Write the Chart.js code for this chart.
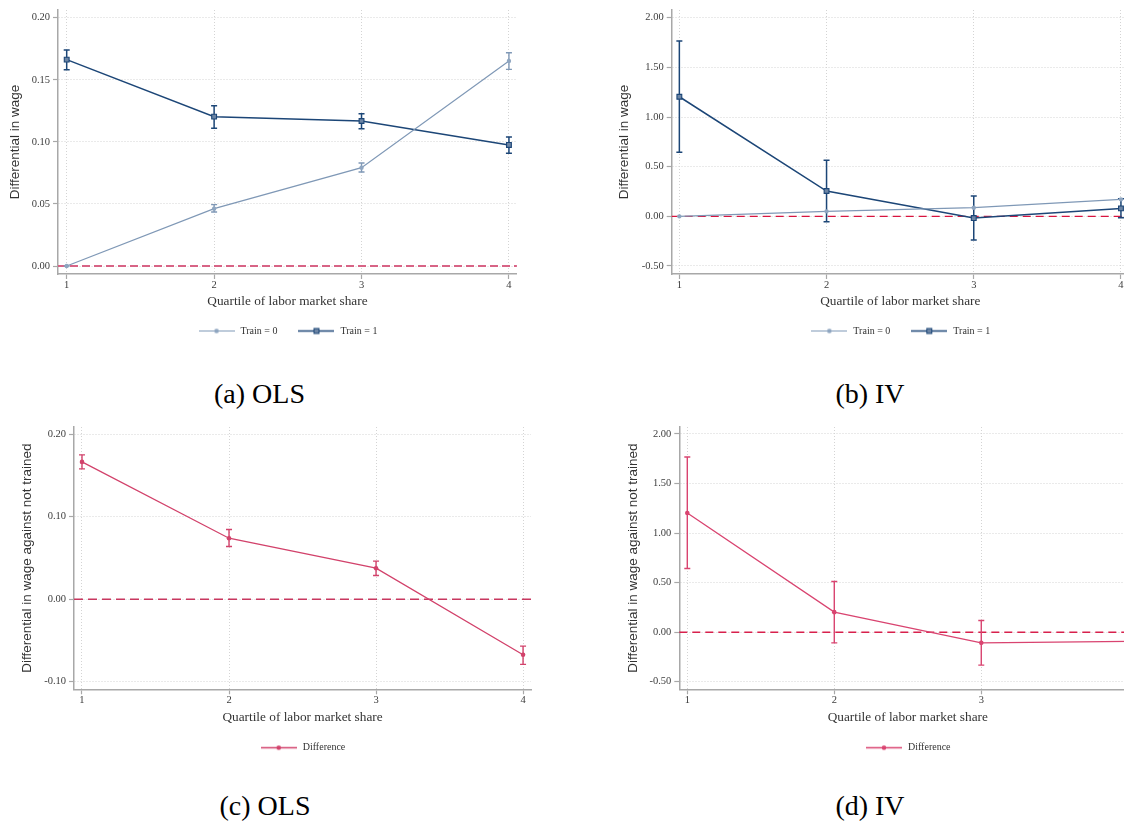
<!DOCTYPE html>
<html>
<head>
<meta charset="utf-8">
<script src="https://cdn.jsdelivr.net/npm/chart.js@4.4.1/dist/chart.umd.min.js"></script>
<style>
html,body{margin:0;padding:0;background:#fff;width:1124px;height:821px;overflow:hidden;position:relative;}
canvas{position:absolute;}
.cap{position:absolute;font-family:"Liberation Serif","Times New Roman",serif;font-size:28px;line-height:28px;color:#000;text-align:center;width:300px;white-space:nowrap;}
</style>
</head>
<body>
<canvas id="pa" width="560" height="360" style="left:0px;top:0px"></canvas>
<canvas id="pb" width="560" height="360" style="left:580px;top:0px"></canvas>
<canvas id="pc" width="560" height="360" style="left:0px;top:417px"></canvas>
<canvas id="pd" width="560" height="360" style="left:600px;top:417px"></canvas>
<div class="cap" style="left:109.5px;top:379.6px">(a) OLS</div>
<div class="cap" style="left:720px;top:379.6px">(b) IV</div>
<div class="cap" style="left:115px;top:791.5px">(c) OLS</div>
<div class="cap" style="left:720px;top:791.5px">(d) IV</div>
<script>
// ---------------- data ----------------
const quartiles = [1, 2, 3, 4];

const olsTrain0   = [0.0000, 0.0462, 0.0792, 0.1651];
const olsTrain0Lo = [0.0000, 0.0435, 0.0757, 0.1584];
const olsTrain0Hi = [0.0000, 0.0494, 0.0830, 0.1718];
const olsTrain1   = [0.1662, 0.1203, 0.1168, 0.0975];
const olsTrain1Lo = [0.1580, 0.1110, 0.1106, 0.0908];
const olsTrain1Hi = [0.1740, 0.1290, 0.1227, 0.1040];

const ivTrain0   = [0.000, 0.050, 0.087, 0.171];
const ivTrain1   = [1.204, 0.255, -0.017, 0.080];
const ivTrain1Lo = [0.644, -0.054, -0.239, -0.014];
const ivTrain1Hi = [1.765, 0.564, 0.204, 0.177];

const olsDiff   = [0.1662, 0.0738, 0.0375, -0.0674];
const olsDiffLo = [0.1578, 0.0638, 0.0287, -0.0790];
const olsDiffHi = [0.1747, 0.0844, 0.0460, -0.0569];

const ivDiff   = [1.202, 0.202, -0.108, -0.093];
const ivDiffLo = [0.643, -0.108, -0.333, -0.300];
const ivDiffHi = [1.768, 0.512, 0.118, 0.110];

const olsLevelTicks = [0, 0.05, 0.10, 0.15, 0.20];
const ivTicks = [-0.5, 0, 0.5, 1.0, 1.5, 2.0];
const olsDiffTicks = [-0.10, 0, 0.10, 0.20];

const xTitle = 'Quartile of labor market share';
const yTitleLevel = 'Differential in wage';
const yTitleDiff = 'Differential in wage against not trained';
const labelTrain0 = 'Train = 0';
const labelTrain1 = 'Train = 1';
const labelDiff = 'Difference';

// ---------------- styles ----------------
const SERIF = '"Liberation Serif","Times New Roman",serif';
const SANS = '"Liberation Sans",Arial,sans-serif';
const LIGHT = '#7f98b6', LIGHTFILL = '#8ea5c0';
const NAVY = '#1c4677', NAVYFILL = '#6b84a4';
const CRIMSON = '#d2426b';

function pts(vals) { return quartiles.map((q, i) => ({x: q, y: vals[i]})); }

function legendImg(color, marker, fill, lw) {
  const c = document.createElement('canvas');
  c.width = 36; c.height = 9;
  const g = c.getContext('2d');
  g.strokeStyle = color; g.lineWidth = lw;
  g.beginPath(); g.moveTo(0, 4.5); g.lineTo(36, 4.5); g.stroke();
  if (marker === 'rect') {
    g.fillStyle = fill; g.fillRect(15.5, 2, 5, 5);
    g.lineWidth = 1; g.strokeStyle = color; g.strokeRect(15.5, 2, 5, 5);
  } else {
    g.fillStyle = fill; g.beginPath(); g.arc(18, 4.5, 2.3, 0, Math.PI * 2); g.fill();
  }
  return c;
}

const refErr = {
  id: 'refErr',
  beforeDatasetsDraw(chart, args, opts) {
    const ctx = chart.ctx;
    const y = chart.scales.y.getPixelForValue(0);
    const {left, right} = chart.chartArea;
    ctx.save();
    ctx.strokeStyle = opts.zeroColor;
    ctx.lineWidth = opts.zeroWidth;
    ctx.setLineDash(opts.zeroDash);
    ctx.beginPath(); ctx.moveTo(left, y); ctx.lineTo(right, y); ctx.stroke();
    ctx.restore();
  },
  beforeDatasetDraw(chart, args) {
    const ds = chart.data.datasets[args.index];
    if (!ds.errLo) return;
    const ctx = chart.ctx, ys = chart.scales.y, cap = 3;
    ctx.save();
    ctx.strokeStyle = ds.errColor; ctx.lineWidth = ds.errWidth; ctx.setLineDash([]);
    args.meta.data.forEach((pt, i) => {
      const lo = ds.errLo[i], hi = ds.errHi[i];
      if (lo == null || hi == null) return;
      const x = pt.x, y1 = ys.getPixelForValue(lo), y2 = ys.getPixelForValue(hi);
      ctx.beginPath();
      ctx.moveTo(x, y1); ctx.lineTo(x, y2);
      ctx.moveTo(x - cap, y1); ctx.lineTo(x + cap, y1);
      ctx.moveTo(x - cap, y2); ctx.lineTo(x + cap, y2);
      ctx.stroke();
    });
    ctx.restore();
  }
};

function build(id, p) {
  return new Chart(document.getElementById(id), {
    type: 'line',
    data: {datasets: p.datasets},
    plugins: [refErr],
    options: {
      responsive: false, animation: false, devicePixelRatio: 1,
      layout: {padding: {left: 4, right: p.padRight, top: 10, bottom: p.padBottom}},
      plugins: {
        tooltip: {enabled: false},
        refErr: {zeroColor: p.zeroColor, zeroWidth: p.zeroWidth, zeroDash: p.zeroDash},
        legend: {
          position: 'bottom', fullSize: false,
          labels: {
            usePointStyle: true, pointStyleWidth: 38, padding: 20,
            font: {family: SERIF, size: 10}, color: '#333',
            generateLabels: (chart) => chart.data.datasets.map((ds, i) => ({
              text: ds.label, pointStyle: ds.legendImg, fillStyle: ds.borderColor,
              strokeStyle: ds.borderColor, lineWidth: 0, hidden: false, datasetIndex: i, fontColor: '#333'
            }))
          }
        }
      },
      scales: {
        x: {
          type: 'linear', min: p.xMin, max: p.xMax,
          afterBuildTicks: s => { s.ticks = quartiles.map(v => ({value: v})); },
          afterFit: s => { s.height = p.xAxisH; },
          ticks: {font: {family: SERIF, size: 10.5}, color: '#3c3c3c', padding: 0, maxRotation: 0, callback: v => String(v)},
          grid: {color: '#d4d4d4', lineWidth: 1, tickColor: '#a8a8a8', tickWidth: 1.2, tickLength: 5},
          border: {color: '#a8a8a8', width: 1.5, dash: [1, 2]},
          title: {display: true, text: xTitle, font: {family: SERIF, size: 13.3, lineHeight: 1.2}, color: '#333', padding: {top: 0, bottom: -3}}
        },
        y: {
          type: 'linear', min: p.yMin, max: p.yMax,
          afterBuildTicks: s => { s.ticks = p.yTicks.map(v => ({value: v})); },
          afterFit: s => { s.width = p.yAxisW; },
          ticks: {font: {family: SERIF, size: 10.5}, color: '#3c3c3c', padding: 3, callback: v => Number(v).toFixed(2)},
          grid: {color: '#d4d4d4', lineWidth: 1, tickColor: '#a8a8a8', tickWidth: 1.2, tickLength: 5},
          border: {color: '#a8a8a8', width: 1.5, dash: [1, 2]},
          title: {display: true, text: p.yTitle, font: {family: SANS, size: 13.5, lineHeight: 1.2}, color: '#333', padding: {top: p.yTitlePad, bottom: 0}}
        }
      }
    }
  });
}

function levelSets(v0, lo0, hi0, v1, lo1, hi1) {
  return [
    {label: labelTrain0, data: pts(v0), errLo: lo0, errHi: hi0, errColor: LIGHT, errWidth: 1.4,
     borderColor: LIGHT, borderWidth: 1.2, pointStyle: 'circle', pointRadius: 2.2,
     pointBackgroundColor: LIGHTFILL, pointBorderColor: LIGHTFILL, pointBorderWidth: 0,
     tension: 0, fill: false, legendImg: legendImg(LIGHT, 'circle', LIGHTFILL, 1.2)},
    {label: labelTrain1, data: pts(v1), errLo: lo1, errHi: hi1, errColor: NAVY, errWidth: 1.5,
     borderColor: NAVY, borderWidth: 1.5, pointStyle: 'rect', pointRadius: 3.4,
     pointBackgroundColor: NAVYFILL, pointBorderColor: NAVY, pointBorderWidth: 1.1,
     tension: 0, fill: false, legendImg: legendImg(NAVY, 'rect', NAVYFILL, 1.5)}
  ];
}

function diffSet(v, lo, hi, color) {
  return [{label: labelDiff, data: pts(v), errLo: lo, errHi: hi, errColor: color, errWidth: 1.4,
    borderColor: color, borderWidth: 1.3, pointStyle: 'circle', pointRadius: 2.3,
    pointBackgroundColor: color, pointBorderColor: color, pointBorderWidth: 0,
    tension: 0, fill: false, legendImg: legendImg(color, 'circle', color, 1.3)}];
}

build('pa', {
  datasets: levelSets(olsTrain0, olsTrain0Lo, olsTrain0Hi, olsTrain1, olsTrain1Lo, olsTrain1Hi),
  padRight: 43.1, padBottom: 14, xAxisH: 32, yAxisW: 54, yTitlePad: 3,
  xMin: 0.941, xMax: 4.054, yMin: -0.00644, yMax: 0.2062, yTicks: olsLevelTicks, yTitle: yTitleLevel,
  zeroColor: 'rgba(214,92,128,0.95)', zeroWidth: 2, zeroDash: [8, 4]
});

build('pb', {
  datasets: levelSets(ivTrain0, null, null, ivTrain1, ivTrain1Lo, ivTrain1Hi),
  padRight: 11.1, padBottom: 14, xAxisH: 32, yAxisW: 87.7, yTitlePad: 31.9,
  xMin: 0.948, xMax: 4.054, yMin: -0.5806, yMax: 2.0775, yTicks: ivTicks, yTitle: yTitleLevel,
  zeroColor: '#d8143f', zeroWidth: 1.3, zeroDash: [8, 5]
});

build('pc', {
  datasets: diffSet(olsDiff, olsDiffLo, olsDiffHi, CRIMSON),
  padRight: 29, padBottom: 14.3, xAxisH: 33.4, yAxisW: 70, yTitlePad: 14.9,
  xMin: 0.9456, xMax: 4.054, yMin: -0.1092, yMax: 0.2085, yTicks: olsDiffTicks, yTitle: yTitleDiff,
  zeroColor: '#c8375f', zeroWidth: 1.5, zeroDash: [9, 5]
});

build('pd', {
  datasets: diffSet(ivDiff, ivDiffLo, ivDiffHi, '#d94470'),
  padRight: 23.8, padBottom: 14.3, xAxisH: 33.4, yAxisW: 75.3, yTitlePad: 20.9,
  xMin: 0.9456, xMax: 4.054, yMin: -0.5767, yMax: 2.0706, yTicks: ivTicks, yTitle: yTitleDiff,
  zeroColor: '#d8204c', zeroWidth: 1.5, zeroDash: [8, 5]
});
</script>
</body>
</html>
